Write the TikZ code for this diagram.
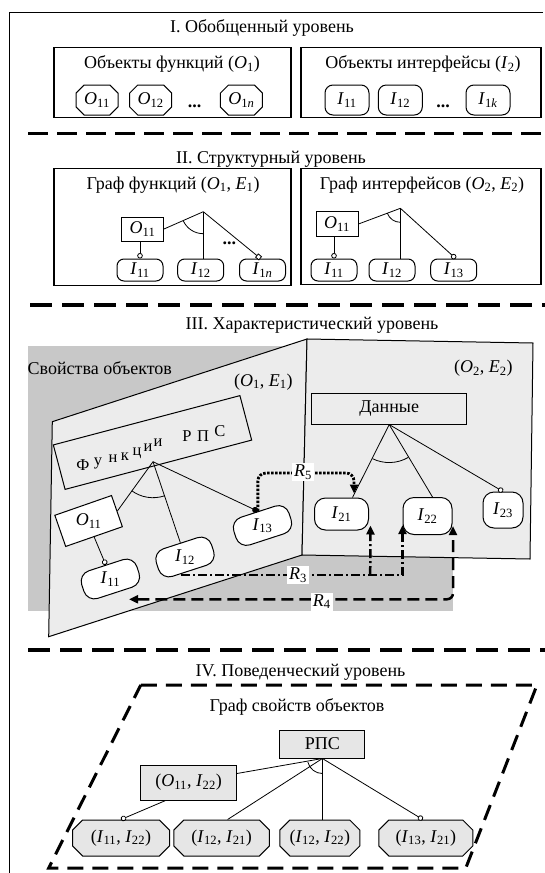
\documentclass[tikz,border=0pt]{standalone}
\usepackage{fontspec}
\setmainfont{Liberation Serif}
\usetikzlibrary{shapes.misc,arrows.meta,calc}
\newcommand{\vO}[1]{\textit{O}\textsubscript{#1}}
\newcommand{\vI}[1]{\textit{I}\textsubscript{#1}}
\newcommand{\vE}[1]{\textit{E}\textsubscript{#1}}
\newcommand{\vR}[1]{\textit{R}\textsubscript{#1}}
\newcommand{\mainsz}{\fontsize{18}{20}\selectfont}
\definecolor{bgdark}{RGB}{200,200,200}
\definecolor{panelc}{RGB}{236,236,236}
\definecolor{nodec}{RGB}{230,230,230}
\tikzset{
  rtip/.tip={Triangle[length=9pt,width=8pt]},
  txt/.style={inner sep=0pt, font=\mainsz},
  frameline/.style={line width=1.4pt},
  secbox/.style={draw, line width=1.2pt, inner sep=0pt},
  onode/.style={draw, line width=1pt, chamfered rectangle, chamfered rectangle xsep=5pt, minimum width=42pt, minimum height=30pt, inner sep=0pt, font=\mainsz},
  inode/.style={draw, line width=1pt, rounded corners=8pt, minimum width=44pt, minimum height=30pt, inner sep=0pt, font=\mainsz},
  inodesm/.style={inode, minimum height=22pt, minimum width=46pt, rounded corners=7pt},
  blob/.style={draw, line width=1pt, fill=white, rounded corners=11pt, minimum width=58pt, minimum height=29pt, inner sep=0pt, font=\mainsz},
  rbox/.style={draw, line width=1pt, inner sep=0pt, font=\mainsz},
  conn/.style={line width=0.8pt},
  sepline/.style={line width=3.2pt, dash pattern=on 20pt off 9pt},
  septhick/.style={line width=4pt, dash pattern=on 22pt off 10pt},
  ocirc/.style={-{Circle[open,length=5.5pt,width=5.5pt,fill=white]}},
  osq/.style={-{Square[open,length=5pt,width=5pt,fill=white]}},
  fdot/.style={-{Circle[length=6pt,width=6pt]}},
  rthree/.style={line width=2.5pt, dash pattern=on 9pt off 3pt on 2pt off 3pt},
  rfour/.style={line width=2.5pt, dash pattern=on 12pt off 6pt},
  rfive/.style={line width=2.8pt, dash pattern=on 2.5pt off 1.5pt},
  rlab/.style={fill=white, inner sep=2pt, font=\mainsz},
  lett/.style={inner sep=0pt, font=\fontsize{16.5}{18}\selectfont},
  paral/.style={line width=3pt, dash pattern=on 16pt off 9pt},
  gnode/.style={draw, line width=1pt, fill=nodec, chamfered rectangle, chamfered rectangle xsep=7pt, minimum height=36pt, inner sep=0pt, font=\mainsz},
}
\begin{document}
\begin{tikzpicture}[x=1pt,y=-1pt]
\useasboundingbox (0,0) rectangle (545,873);
\fill[white] (0,0) rectangle (545,873);
% frame
\draw[frameline] (543,12.5) -- (9.5,12.5) -- (9.5,873);

% ===== Section I =====
\node[txt] (t1) at (262,28) {I. Обобщенный уровень};
\node[secbox, minimum width=237pt, minimum height=70pt] (b1) at (172.5,82.3) {};
\node[secbox, minimum width=240pt, minimum height=70pt] (b2) at (421,82.3) {};
\node[txt] (l1) at (172,64) {Объекты функций (\vO{1})};
\node[txt] (l2) at (423,64) {Объекты интерфейсы (\vI{2})};
\node[onode] (O11a) at (97,100) {\vO{11}};
\node[onode] (O12a) at (150.7,100) {\vO{12}};
\node[txt] (d1) at (194.7,106) {\textbf{...}};
\node[onode] (O1na) at (241.4,100) {\vO{1\textit{n}}};
\node[inode] (I11a) at (347,100) {\vI{11}};
\node[inode] (I12a) at (400.3,100) {\vI{12}};
\node[txt] (d2) at (443.2,106) {\textbf{...}};
\node[inode] (I1ka) at (488,100) {\vI{1\textit{k}}};
\draw[sepline] (28,133.5) -- (545,133.5);

% ===== Section II =====
\node[txt] (t2) at (271,159) {II. Структурный уровень};
\node[secbox, minimum width=237pt, minimum height=117.5pt] (b3) at (172.5,227) {};
\node[secbox, minimum width=240pt, minimum height=116pt] (b4) at (421,226.5) {};
\node[txt] (l3) at (173,185) {Граф функций (\vO{1}, \vE{1})};
\node[txt] (l4) at (422,185) {Граф интерфейсов (\vO{2}, \vE{2})};
\node[rbox, minimum width=42pt, minimum height=24pt] (O11b) at (142.5,229) {\vO{11}};
\coordinate (apL) at (203.3,211.7);
\node[inodesm] (I11b) at (140,270) {\vI{11}};
\node[inodesm] (I12b) at (200.7,270) {\vI{12}};
\node[inodesm] (I1nb) at (262.5,270) {\vI{1\textit{n}}};
\node[txt] (d3) at (229.4,243) {\textbf{...}};
\draw[conn] (O11b.east) -- (apL);
\draw[conn] (apL) -- (apL |- I12b.north);
\draw[conn, osq] (apL) -- ($(I1nb.north)+(-2,0)$);
\draw[conn, ocirc] (O11b.south -| I11b.north) -- (I11b.north);
\draw[conn] ($(apL)+(90:22)$) arc[start angle=90, end angle=156, radius=22];

\node[rbox, minimum width=42pt, minimum height=25pt] (O11r) at (337,224) {\vO{11}};
\coordinate (apR) at (400.4,208.3);
\node[inodesm] (I11r) at (334,270) {\vI{11}};
\node[inodesm] (I12r) at (392,270) {\vI{12}};
\node[inodesm] (I13r) at (453.7,270) {\vI{13}};
\draw[conn] (O11r.east) -- (apR);
\draw[conn] (apR) -- (apR |- I12r.north);
\draw[conn, ocirc] (apR) -- ($(I13r.north)+(2,0)$);
\draw[conn, ocirc] (O11r.south -| I11r.north) -- (I11r.north);
\draw[conn] ($(apR)+(90:14)$) arc[start angle=90, end angle=160, radius=14];

\draw[septhick] (30,305) -- (545,305);

% ===== Section III =====
\node[txt] (t3) at (312,325) {III. Характеристический уровень};
\fill[bgdark] (27.8,346) rectangle (452.5,611);
\filldraw[fill=panelc, line width=1pt] (52.3,421.7) -- (307,339) -- (302,555) -- (48.7,636.7) -- cycle;
\filldraw[fill=panelc, line width=1pt] (307,339) -- (533,343) -- (530,559) -- (302,555) -- cycle;
\node[txt, anchor=west] (l5) at (27.5,368) {Свойства объектов};
\node[txt] (l6) at (263.3,381.7) {(\vO{1}, \vE{1})};
\node[txt] (l7) at (483.3,368.3) {(\vO{2}, \vE{2})};

% left graph
\node[draw, line width=1pt, rotate=14.8, minimum width=193pt, minimum height=46pt, inner sep=0pt] (fr) at (152.5,442.5) {};
\foreach \ch/\px/\py [count=\k] in {Ф/83/465, у/98/463, н/113/459, к/125/457, ц/137/453, и/148/448, и/158/443, Р/187/436, П/203/436, С/220/431}
  \node[lett] (fl\k) at (\px,\py) {\ch};
\coordinate (apF) at (153,461.7);
\node[draw, line width=1pt, fill=white, rotate=19.2, minimum width=60pt, minimum height=33pt, inner sep=0pt, font=\mainsz] (O11c) at (88.6,521) {\rotatebox{-19.2}{\vO{11}}};
\node[blob, rotate=18] (I11c) at (110.4,579) {\rotatebox{-18}{\vI{11}}};
\node[blob, rotate=18] (I12c) at (185,557) {\rotatebox{-18}{\vI{12}}};
\node[blob, rotate=18] (I13c) at (262.5,525.5) {\rotatebox{-18}{\vI{13}}};
\draw[conn] (apF) -- (O11c.east);
\draw[conn] (apF) -- (I12c.north);
\draw[conn, fdot] (apF) -- (I13c.north);
\draw[conn, ocirc] (O11c.south) -- (I11c.north);
\draw[conn] ($(apF)+(71.3:36)$) arc[start angle=71.3, end angle=126.2, radius=36];

% right graph
\node[rbox, minimum width=155pt, minimum height=30.7pt] (Dan) at (389.2,408.7) {Данные};
\node[blob, minimum width=54pt, minimum height=32pt] (I21c) at (341.5,514) {\vI{21}};
\node[blob, minimum width=49pt, minimum height=37pt] (I22c) at (427.5,516) {\vI{22}};
\node[blob, minimum width=40pt, minimum height=36pt] (I23c) at (503,510) {\vI{23}};
\draw[conn] (Dan.south) -- ($(I21c.north)+(11,0)$);
\draw[conn] (Dan.south) -- ($(I22c.north)+(5,0)$);
\draw[conn, ocirc] (Dan.south) -- (I23c.north);
\draw[conn] ($(Dan.south)+(59.7:38)$) arc[start angle=59.7, end angle=116.2, radius=38];

% relations
\coordinate (r5c) at (354,473);
\draw[rfive, rounded corners=8pt, -{rtip}] (I13c.north) |- (r5c) -- ($(I21c.north)+(12.5,-4)$);
\node[rlab] (R5) at (303,472) {\vR{5}};

\coordinate (r3s) at (181,575);
\coordinate (r3e) at (402.5,575);
\coordinate (r3m) at (370.2,575);
\draw[rthree, -{rtip}] (r3s) -- (r3e) -- ($(I22c.south west)+(0,-10)$);
\draw[rthree, -{rtip}] (r3m) -- ($(I21c.south east)+(1.5,-5)$);
\node[rlab] (R3) at (298,575) {\vR{3}};

\draw[rfour, {rtip}-{rtip}, rounded corners=6pt] ($(I11c.south)+(14,6)$) -| ($(I22c.south east)+(0.5,-9)$);
\node[rlab] (R4) at (321.7,601.7) {\vR{4}};

\draw[septhick] (28,650) -- (545,650);

% ===== Section IV =====
\node[txt] (t4) at (300.5,672.5) {IV. Поведенческий уровень};
\draw[paral] (140.8,685) -- (537,685) -- (465.8,868) -- (48.7,868) -- cycle;
\node[txt] (l8) at (297,707) {Граф свойств объектов};
\node[rbox, fill=nodec, minimum width=85pt, minimum height=28pt] (RPS) at (322.4,744) {РПС};
\node[rbox, fill=nodec, minimum width=95.6pt, minimum height=35pt] (OI) at (188.6,782.5) {(\vO{11}, \vI{22})};
\node[gnode, minimum width=97pt] (B1) at (121,838) {(\vI{11}, \vI{22})};
\node[gnode, minimum width=95.6pt] (B2) at (221.6,838) {(\vI{12}, \vI{21})};
\node[gnode, minimum width=80pt] (B3) at (319.8,838) {(\vI{12}, \vI{22})};
\node[gnode, minimum width=94pt] (B4) at (425.8,838) {(\vI{13}, \vI{21})};
\draw[conn] (RPS.south) -- ($(OI.east)+(0,-9)$);
\draw[conn] (RPS.south) -- ($(B2.north)+(6,0)$);
\draw[conn] (RPS.south) -- (RPS.south |- B3.north);
\draw[conn, ocirc] (RPS.south) -- ($(B4.north)+(-3,0)$);
\draw[conn, ocirc] ($(OI.south)+(-23,0)$) -- (B1.north);
\draw[conn] ($(RPS.south)+(90:15)$) arc[start angle=90, end angle=166, radius=15];
\end{tikzpicture}
\end{document}
